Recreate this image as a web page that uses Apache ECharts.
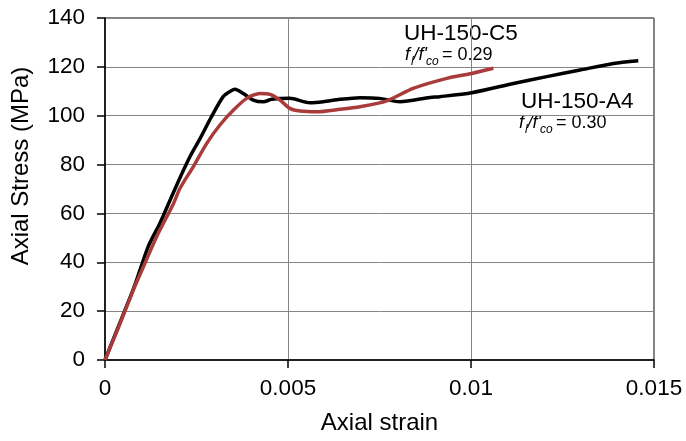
<!DOCTYPE html>
<html>
<head>
<meta charset="utf-8">
<script src="https://cdn.jsdelivr.net/npm/echarts@6/dist/echarts.min.js"></script>
<style>html,body{margin:0;padding:0;background:#fff}#c{width:686px;height:441px}</style>
</head>
<body>
<div id="c"></div>
<script>
// UH-150-A4 (black)
var a4Strain = [0, 0.0004, 0.0008, 0.00118, 0.0015, 0.00178, 0.002, 0.00232, 0.0026, 0.00291, 0.00323, 0.00345, 0.00355, 0.00378, 0.00405, 0.00433, 0.00455, 0.00505, 0.0056, 0.00596, 0.00642, 0.00697, 0.0075, 0.00806, 0.00888, 0.00915, 0.01002, 0.01116, 0.01207, 0.01298, 0.01389, 0.01457];
var a4Stress = [0, 15, 30, 46.4, 56, 65.5, 73, 83.2, 90.7, 99.6, 107.8, 110.2, 110.8, 109.1, 106.4, 105.7, 106.7, 107.1, 105.3, 105.7, 106.7, 107.4, 107.1, 105.7, 107.5, 107.8, 109.4, 113.2, 116, 118.7, 121.4, 122.5];
// UH-150-C5 (red)
var c5Strain = [0, 0.0004, 0.000773, 0.00105, 0.00141, 0.00187, 0.00205, 0.00241, 0.00278, 0.00314, 0.00351, 0.00387, 0.00423, 0.00451, 0.00478, 0.00505, 0.00533, 0.00578, 0.00642, 0.00697, 0.0077, 0.00842, 0.00934, 0.01002, 0.01061];
var c5Stress = [0, 14.5, 28.6, 38.2, 50.5, 64, 70.3, 79.1, 88.7, 96.2, 102.3, 107.1, 109.1, 108.7, 106.4, 103, 101.9, 101.6, 102.6, 103.7, 106.1, 111.2, 115.3, 117.3, 119.4];
var xTicks = [0, 0.005, 0.01, 0.015];
var yTicks = [0, 20, 40, 60, 80, 100, 120, 140];
var xTitle = 'Axial strain';
var yTitle = 'Axial Stress (MPa)';

function pairs(xs, ys) { return xs.map(function (x, i) { return [x, ys[i]]; }); }

var FONT = 'Liberation Sans';
var chart = echarts.init(document.getElementById('c'), null, { renderer: 'canvas' });

function fracLabel(x, y, val) {
  return [
    { type: 'text', left: x, top: y - 16, style: { text: 'f', font: 'italic 18px "' + FONT + '"', fill: '#000' } },
    { type: 'text', left: x + 6, top: y - 6, style: { text: 'l', font: 'italic 12px "' + FONT + '"', fill: '#000' } },
    { type: 'text', left: x + 8.5, top: y - 16, style: { text: "/f'", font: 'italic 18px "' + FONT + '"', fill: '#000' } },
    { type: 'text', left: x + 21, top: y - 6, style: { text: 'co', font: 'italic 12px "' + FONT + '"', fill: '#000' } },
    { type: 'text', left: x + 37, top: y - 16, style: { text: '= ' + val, font: '18px "' + FONT + '"', fill: '#000' } }
  ];
}

chart.setOption({
  animation: false,
  backgroundColor: '#fff',
  grid: { left: 105, right: 32, top: 18, bottom: 81, show: true, borderColor: '#000', borderWidth: 1 },
  xAxis: {
    type: 'value', min: xTicks[0], max: xTicks[xTicks.length - 1], interval: 0.005,
    name: xTitle, nameLocation: 'middle', nameGap: 51,
    nameTextStyle: { fontFamily: FONT, fontSize: 24, color: '#000' },
    axisLine: { lineStyle: { color: '#000', width: 1.5 } },
    axisTick: { show: true, length: 8, lineStyle: { color: '#000', width: 1.5 } },
    axisLabel: { margin: 17, fontFamily: FONT, fontSize: 22.5, color: '#000',
      formatter: function (v) { return String(+v.toFixed(4)); } },
    splitLine: { show: true, lineStyle: { color: '#858585', width: 1 } }
  },
  yAxis: {
    type: 'value', min: yTicks[0], max: yTicks[yTicks.length - 1], interval: 20,
    axisLine: { show: true, lineStyle: { color: '#000', width: 1.5 } },
    axisTick: { show: true, length: 8, lineStyle: { color: '#000', width: 1.5 } },
    axisLabel: { margin: 20, fontFamily: FONT, fontSize: 22.5, color: '#000' },
    splitLine: { show: true, lineStyle: { color: '#858585', width: 1 } }
  },
  series: [
    { name: 'UH-150-A4', type: 'line', data: pairs(a4Strain, a4Stress), showSymbol: false, smooth: 0.25,
      lineStyle: { color: '#000', width: 3.5 }, z: 2 },
    { name: 'UH-150-C5', type: 'line', data: pairs(c5Strain, c5Stress), showSymbol: false, smooth: 0.25,
      lineStyle: { color: '#a93c3b', width: 3.5 }, z: 3 }
  ],
  graphic: [
    { type: 'text', x: 21, y: 166, rotation: Math.PI / 2,
      style: { text: yTitle, font: '24px "' + FONT + '"', fill: '#000', align: 'center', verticalAlign: 'middle' } },
    { type: 'text', left: 404, top: 22, style: { text: 'UH-150-C5', font: '22.5px "' + FONT + '"', fill: '#000' } },
    { type: 'text', left: 521, top: 90, style: { text: 'UH-150-A4', font: '22.5px "' + FONT + '"', fill: '#000' } }
  ].concat(fracLabel(405, 62, '0.29')).concat(fracLabel(519, 130, '0.30'))
});
</script>
</body>
</html>
